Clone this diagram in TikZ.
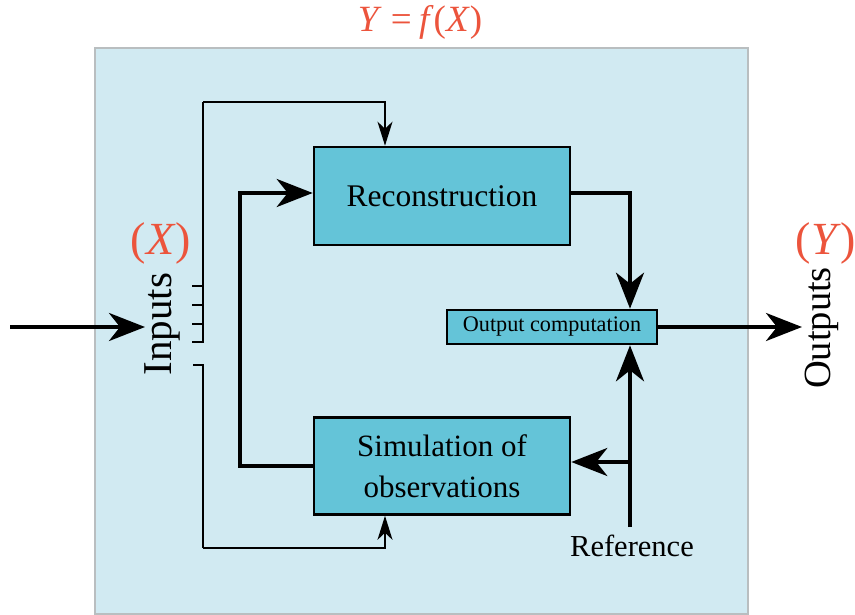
\documentclass[tikz,border=0pt]{standalone}
\usepackage{fontspec}
\setmainfont{Liberation Serif}
\usetikzlibrary{arrows.meta}
\definecolor{bgblue}{RGB}{209,234,242}
\definecolor{boxblue}{RGB}{100,196,216}
\definecolor{redtxt}{RGB}{236,84,60}
\definecolor{bordergrey}{RGB}{185,190,192}
\tikzset{
  blockbox/.style={draw=black, line width=2.6pt, fill=boxblue, inner sep=0pt, align=center},
  thickln/.style={line width=4pt, -{Stealth[length=36pt,width=28pt,inset=11pt]}},
  thinln/.style={line width=1.6pt, -{Stealth[length=24pt,width=15pt,inset=7pt]}},
  thinplain/.style={line width=1.6pt},
  redlbl/.style={text=redtxt, font=\fontsize{46}{50}\selectfont},
  bodytxt/.style={font=\fontsize{31.5}{34}\selectfont},
}
\begin{document}
\begin{tikzpicture}[x=1pt,y=-1pt]
\useasboundingbox (0,0) rectangle (855,615);
\fill[white] (0,0) rectangle (855,615);
\draw[draw=bordergrey, line width=2pt, fill=bgblue] (95,48) rectangle (748,614);

% title
\node[text=redtxt, font=\fontsize{37}{40}\selectfont] (title) at (420,22) {\textit{Y}\hspace{0.25em}=\hspace{0.2em}\textit{f}(\textit{X})};

% boxes
\node[blockbox, minimum width=256pt, minimum height=98pt, bodytxt] (rec) at (442,196) {Reconstruction};
\node[blockbox, minimum width=256pt, minimum height=97pt, font=\fontsize{31}{41}\selectfont] (sim) at (442,466) {Simulation of\\observations};
\node[blockbox, minimum width=210pt, minimum height=34pt, font=\fontsize{22.2}{24}\selectfont] (out) at (552,327) {Output computation};

% labels
\node[redlbl] (xl) at (161,243) {(\textit{X})};
\node[redlbl] (yl) at (826,243) {(\textit{Y})};
\node[rotate=90, font=\fontsize{41}{44}\selectfont] (inl) at (162,324) {Inputs};
\node[rotate=90, font=\fontsize{38.5}{42}\selectfont] (outl) at (822,328) {Outputs};
\node[font=\fontsize{30.5}{34}\selectfont] (refl) at (632,546) {Reference};

% coordinates
\coordinate (inS) at (10,327);
\coordinate (inE) at (145,327);
\coordinate (outE) at (802,327);
\coordinate (refB) at (630,527);
\coordinate (refJ) at (630,462);
\coordinate (busTop) at (203,102);
\coordinate (busA) at (203,342);
\coordinate (busB) at (203,365);
\coordinate (busBot) at (203,548);

% input and output arrows
\draw[thickln] (inS) -- (inE);
\draw[thickln] (out.east) -- (outE);

% input bus
\draw[thinplain] (busTop) -- (busA) -- ++(-11,0);
\draw[thinplain] (203,286) -- ++(-11,0);
\draw[thinplain] (203,305) -- ++(-11,0);
\draw[thinplain] (203,324) -- ++(-11,0);
\draw[thinplain] (193,365) -- (busB) -- (busBot);
\draw[thinln] (busTop) -| ([xshift=-57pt]rec.north);
\draw[thinln] (busBot) -| ([xshift=-57pt]sim.south);

% feedback loop
\draw[thickln] (sim.west |- 0,466) -- (240,466) |- (rec.west |- 0,193);
\draw[thickln] (rec.east |- 0,193) -| (out.north -| 630,0);
\draw[thickln] (refB) -- (out.south -| 630,0);
\draw[thickln] (refJ) -- (sim.east |- 0,462);
\end{tikzpicture}
\end{document}
